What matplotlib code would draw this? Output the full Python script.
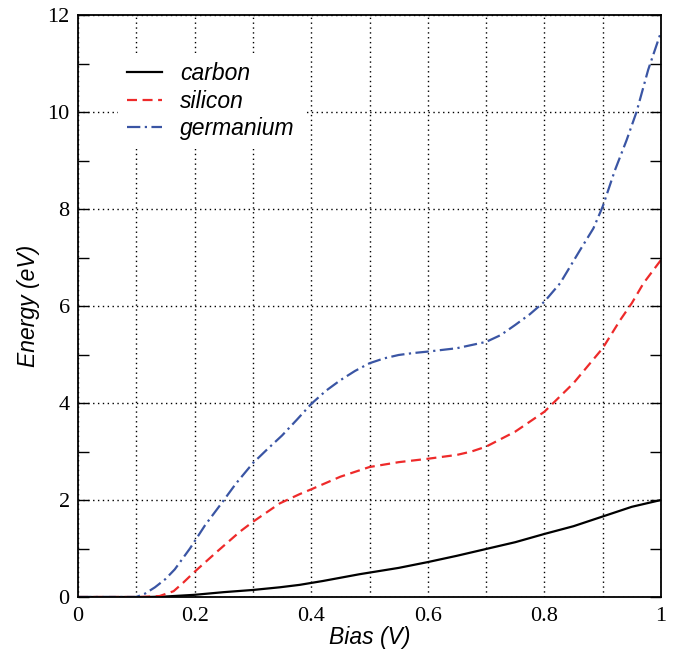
import matplotlib
matplotlib.use("Agg")

import matplotlib.pyplot as plt
from matplotlib.ticker import MultipleLocator, FuncFormatter

# data
bias_c = [0.0, 0.12, 0.15, 0.2, 0.25, 0.3, 0.346, 0.38, 0.42, 0.483, 0.55, 0.6, 0.65, 0.7,
          0.75, 0.8, 0.85, 0.9, 0.95, 1.0]
carbon = [0.0, 0.0, 0.01, 0.045, 0.10, 0.145, 0.2, 0.25, 0.33, 0.47, 0.60, 0.72, 0.85, 0.99,
          1.13, 1.30, 1.46, 1.66, 1.86, 2.0]

bias_s = [0.0, 0.106, 0.14, 0.164, 0.18, 0.2, 0.238, 0.278, 0.3, 0.346, 0.38, 0.4, 0.45,
          0.5, 0.55, 0.6, 0.65, 0.675, 0.7, 0.75, 0.8, 0.85, 0.9, 0.93, 0.95, 0.97, 1.0]
silicon = [0.0, 0.0, 0.02, 0.12, 0.29, 0.52, 0.93, 1.35, 1.55, 1.93, 2.12, 2.22, 2.48,
           2.68, 2.78, 2.85, 2.93, 3.0, 3.10, 3.41, 3.82, 4.41, 5.13, 5.71, 6.06, 6.47, 6.95]

bias_g = [0.0, 0.1, 0.115, 0.132, 0.15, 0.166, 0.192, 0.218, 0.246, 0.271, 0.3, 0.325,
          0.35, 0.375, 0.4, 0.425, 0.45, 0.475, 0.5, 0.525, 0.55, 0.575, 0.6, 0.65, 0.7,
          0.725, 0.75, 0.775, 0.8, 0.827, 0.861, 0.884, 0.9, 0.921, 0.941, 0.958, 0.978, 1.0]
germanium = [0.0, 0.0, 0.07, 0.2, 0.37, 0.57, 1.0, 1.48, 1.93, 2.34, 2.76, 3.05,
             3.33, 3.65, 3.98, 4.25, 4.47, 4.66, 4.82, 4.92, 4.99, 5.03, 5.06, 5.13, 5.26,
             5.40, 5.61, 5.83, 6.09, 6.47, 7.15, 7.6, 8.05, 8.8, 9.42, 10.0, 10.87, 11.65]

fig = plt.figure(figsize=(6.75, 6.53), dpi=100)
ax = fig.add_axes([78 / 675, 1 - 597 / 653, 583 / 675, 582 / 653])

ax.plot(bias_c, carbon, color="black", linewidth=1.6, label="carbon")
ax.plot(bias_s, silicon, color="#ee2a2a", linewidth=1.6, linestyle=(0, (4.5, 2.5)),
        label="silicon")
ax.plot(bias_g, germanium, color="#3a55a4", linewidth=1.6,
        linestyle=(0, (6, 2, 1, 2)), label="germanium")

ax.set_xlim(0, 1)
ax.set_ylim(0, 12)

ax.xaxis.set_major_locator(MultipleLocator(0.1))
ax.yaxis.set_major_locator(MultipleLocator(2))
ax.yaxis.set_minor_locator(MultipleLocator(1))


def xfmt(v, pos):
    k = int(round(v * 10))
    if k % 2:
        return ""
    if k == 0:
        return "0"
    if k == 10:
        return "1"
    return f"{v:.1f}"


ax.xaxis.set_major_formatter(FuncFormatter(xfmt))

ax.tick_params(which="both", direction="in", top=True, right=True,
               labelsize=16, pad=6)
ax.tick_params(which="both", length=8, width=1)
ax.tick_params(axis="x", which="major", length=0, pad=7)
for lab in ax.get_xticklabels() + ax.get_yticklabels():
    lab.set_fontfamily("Liberation Serif")

ax.grid(True, which="major", color="black", linestyle=(0, (1, 2.5)), linewidth=1)

for s in ax.spines.values():
    s.set_linewidth(1.3)

ax.set_xlabel("Bias (V)", fontsize=16.5, fontstyle="italic", family="Liberation Sans",
              labelpad=0)
ax.set_ylabel("Energy (eV)", fontsize=16.5, fontstyle="italic", family="Liberation Sans",
              labelpad=5)

leg = ax.legend(loc="upper left", bbox_to_anchor=(0.0686, 0.935), frameon=True,
                handlelength=1.5, handletextpad=0.8, labelspacing=0.2, borderpad=0.4,
                borderaxespad=0, fancybox=False,
                prop={"family": "Liberation Sans", "style": "italic", "size": 16.5})
leg.get_frame().set_facecolor("white")
leg.get_frame().set_edgecolor("none")
leg.get_frame().set_alpha(1)

fig.savefig("out.png", dpi=100)
